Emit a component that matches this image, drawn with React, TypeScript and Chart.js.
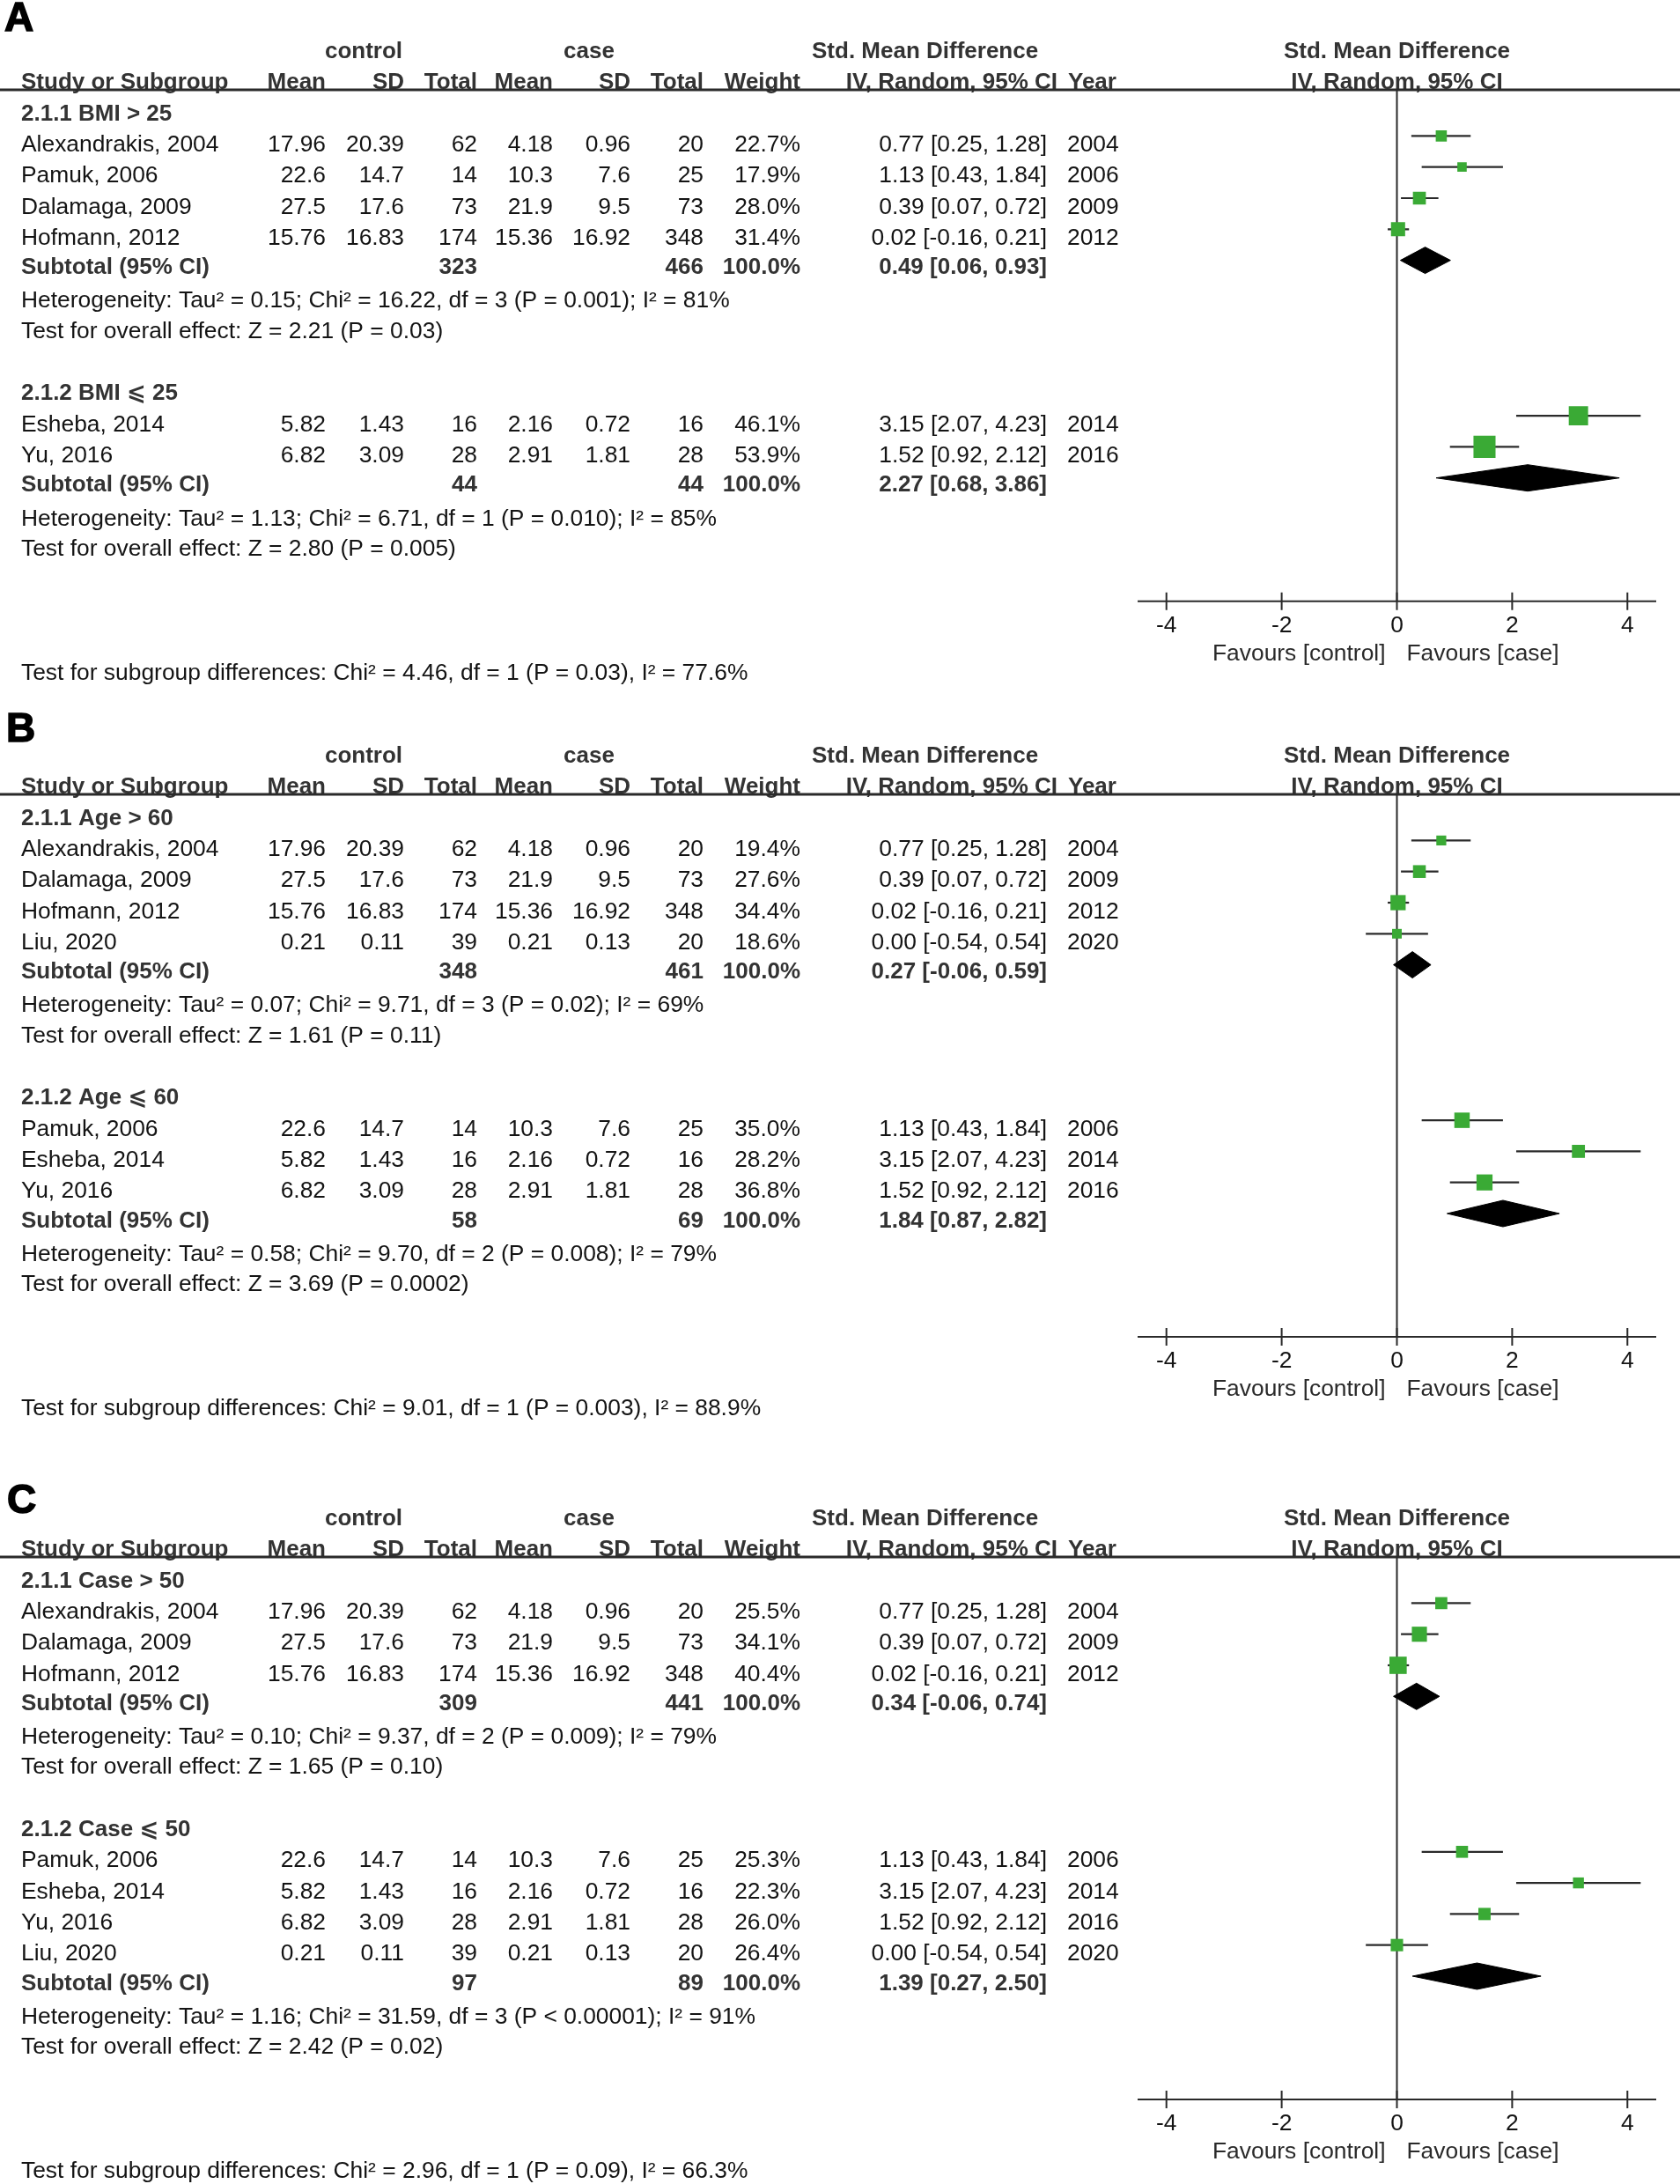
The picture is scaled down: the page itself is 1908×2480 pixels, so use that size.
import React, { useEffect, useRef } from "react";
import { Chart, registerables } from "chart.js";
Chart.register(...registerables);

// ---------------- Study-level data ----------------
const STUDY_NAMES = ["Alexandrakis, 2004", "Pamuk, 2006", "Dalamaga, 2009", "Hofmann, 2012", "Esheba, 2014", "Yu, 2016", "Liu, 2020"];
const STUDY_YEARS = [2004, 2006, 2009, 2012, 2014, 2016, 2020];
const CONTROL_MEAN = [17.96, 22.6, 27.5, 15.76, 5.82, 6.82, 0.21];
const CONTROL_SD = [20.39, 14.7, 17.6, 16.83, 1.43, 3.09, 0.11];
const CONTROL_TOTAL = [62, 14, 73, 174, 16, 28, 39];
const CASE_MEAN = [4.18, 10.3, 21.9, 15.36, 2.16, 2.91, 0.21];
const CASE_SD = [0.96, 7.6, 9.5, 16.92, 0.72, 1.81, 0.13];
const CASE_TOTAL = [20, 25, 73, 348, 16, 28, 20];
const SMD = [0.77, 1.13, 0.39, 0.02, 3.15, 1.52, 0.0];
const CI_LOW = [0.25, 0.43, 0.07, -0.16, 2.07, 0.92, -0.54];
const CI_HIGH = [1.28, 1.84, 0.72, 0.21, 4.23, 2.12, 0.54];

const X_TICKS = [-4, -2, 0, 2, 4];

// ---------------- Panel A ----------------
const A_TITLES = ["2.1.1 BMI > 25", "2.1.2 BMI \u2A7D 25"];
const A_STUDIES_1 = [0, 1, 2, 3];
const A_STUDIES_2 = [4, 5];
const A_WEIGHTS_1 = [22.7, 17.9, 28.0, 31.4];
const A_WEIGHTS_2 = [46.1, 53.9];
const A_SUB_CONTROL = [323, 44];
const A_SUB_CASE = [466, 44];
const A_SUB_SMD = [0.49, 2.27];
const A_SUB_LOW = [0.06, 0.68];
const A_SUB_HIGH = [0.93, 3.86];
const A_HETERO = [
  "Heterogeneity: Tau\u00B2 = 0.15; Chi\u00B2 = 16.22, df = 3 (P = 0.001); I\u00B2 = 81%",
  "Heterogeneity: Tau\u00B2 = 1.13; Chi\u00B2 = 6.71, df = 1 (P = 0.010); I\u00B2 = 85%",
];
const A_OVERALL = ["Test for overall effect: Z = 2.21 (P = 0.03)", "Test for overall effect: Z = 2.80 (P = 0.005)"];
const A_SUBGROUP = "Test for subgroup differences: Chi\u00B2 = 4.46, df = 1 (P = 0.03), I\u00B2 = 77.6%";

// ---------------- Panel B ----------------
const B_TITLES = ["2.1.1 Age > 60", "2.1.2 Age \u2A7D 60"];
const B_STUDIES_1 = [0, 2, 3, 6];
const B_STUDIES_2 = [1, 4, 5];
const B_WEIGHTS_1 = [19.4, 27.6, 34.4, 18.6];
const B_WEIGHTS_2 = [35.0, 28.2, 36.8];
const B_SUB_CONTROL = [348, 58];
const B_SUB_CASE = [461, 69];
const B_SUB_SMD = [0.27, 1.84];
const B_SUB_LOW = [-0.06, 0.87];
const B_SUB_HIGH = [0.59, 2.82];
const B_HETERO = [
  "Heterogeneity: Tau\u00B2 = 0.07; Chi\u00B2 = 9.71, df = 3 (P = 0.02); I\u00B2 = 69%",
  "Heterogeneity: Tau\u00B2 = 0.58; Chi\u00B2 = 9.70, df = 2 (P = 0.008); I\u00B2 = 79%",
];
const B_OVERALL = ["Test for overall effect: Z = 1.61 (P = 0.11)", "Test for overall effect: Z = 3.69 (P = 0.0002)"];
const B_SUBGROUP = "Test for subgroup differences: Chi\u00B2 = 9.01, df = 1 (P = 0.003), I\u00B2 = 88.9%";

// ---------------- Panel C ----------------
const C_TITLES = ["2.1.1 Case > 50", "2.1.2 Case \u2A7D 50"];
const C_STUDIES_1 = [0, 2, 3];
const C_STUDIES_2 = [1, 4, 5, 6];
const C_WEIGHTS_1 = [25.5, 34.1, 40.4];
const C_WEIGHTS_2 = [25.3, 22.3, 26.0, 26.4];
const C_SUB_CONTROL = [309, 97];
const C_SUB_CASE = [441, 89];
const C_SUB_SMD = [0.34, 1.39];
const C_SUB_LOW = [-0.06, 0.27];
const C_SUB_HIGH = [0.74, 2.5];
const C_HETERO = [
  "Heterogeneity: Tau\u00B2 = 0.10; Chi\u00B2 = 9.37, df = 2 (P = 0.009); I\u00B2 = 79%",
  "Heterogeneity: Tau\u00B2 = 1.16; Chi\u00B2 = 31.59, df = 3 (P < 0.00001); I\u00B2 = 91%",
];
const C_OVERALL = ["Test for overall effect: Z = 1.65 (P = 0.10)", "Test for overall effect: Z = 2.42 (P = 0.02)"];
const C_SUBGROUP = "Test for subgroup differences: Chi\u00B2 = 2.96, df = 1 (P = 0.09), I\u00B2 = 66.3%";

// ---------------- Styling / layout ----------------
const FONT = '"Liberation Sans", Arial, Helvetica, "DejaVu Sans", sans-serif';
const FS_BOLD = 26;
const FS_REG = 26.4;
const INK = "#141414";
const INK_BOLD = "#333333";
const LINE = "#2a2a2a";
const GREEN = "#3aaa35";
const W = 1908;
const ROW = 35.3;
const ROW0 = 48.5; // mark y of row 0 within a panel
const TEXT_DY = 17.5; // text baseline below mark y
const SUBTOTAL_DY = -2;
const HEADER_LINE = 102;
const X_LEFT = 1292;
const X_RIGHT = 1881;
const X_MIN = -4.5;
const X_MAX = 4.5;
const DIAMOND_HALF = 15 / ROW;
const COL = {
  name: 24, cMean: 370, cSD: 459, cTot: 542, kMean: 628, kSD: 716, kTot: 799,
  weight: 909, ci: 1189, year: 1212, smdHead: 922, ciHead: 1201, yearHead: 1213,
  controlC: 413, caseC: 669,
};

type Group = {
  title: string; studies: number[]; weights: number[];
  subControl: number; subCase: number; subSmd: number; subLow: number; subHigh: number;
  hetero: string; overall: string;
};
type Panel = { letter: string; top: number; height: number; letterX: number; letterY: number; groups: Group[]; subgroup: string };

function makeGroups(titles: string[], studies: number[][], weights: number[][], sc: number[], sk: number[], sm: number[], sl: number[], sh: number[], het: string[], ov: string[]): Group[] {
  return titles.map((t, i) => ({
    title: t, studies: studies[i], weights: weights[i], subControl: sc[i], subCase: sk[i],
    subSmd: sm[i], subLow: sl[i], subHigh: sh[i], hetero: het[i], overall: ov[i],
  }));
}

const PANELS: Panel[] = [
  {
    letter: "A", top: 0, height: 800, letterX: 5, letterY: 35,
    groups: makeGroups(A_TITLES, [A_STUDIES_1, A_STUDIES_2], [A_WEIGHTS_1, A_WEIGHTS_2], A_SUB_CONTROL, A_SUB_CASE, A_SUB_SMD, A_SUB_LOW, A_SUB_HIGH, A_HETERO, A_OVERALL),
    subgroup: A_SUBGROUP,
  },
  {
    letter: "B", top: 800, height: 866, letterX: 7, letterY: 42,
    groups: makeGroups(B_TITLES, [B_STUDIES_1, B_STUDIES_2], [B_WEIGHTS_1, B_WEIGHTS_2], B_SUB_CONTROL, B_SUB_CASE, B_SUB_SMD, B_SUB_LOW, B_SUB_HIGH, B_HETERO, B_OVERALL),
    subgroup: B_SUBGROUP,
  },
  {
    letter: "C", top: 1666, height: 814, letterX: 8, letterY: 52,
    groups: makeGroups(C_TITLES, [C_STUDIES_1, C_STUDIES_2], [C_WEIGHTS_1, C_WEIGHTS_2], C_SUB_CONTROL, C_SUB_CASE, C_SUB_SMD, C_SUB_LOW, C_SUB_HIGH, C_HETERO, C_OVERALL),
    subgroup: C_SUBGROUP,
  },
];

type GroupRows = { title: number; studies: number[]; sub: number; het: number; test: number };

function layoutRows(panel: Panel) {
  let r = 2;
  const groups: GroupRows[] = [];
  panel.groups.forEach((g, gi) => {
    if (gi > 0) r += 1; // blank row between groups
    const title = r++;
    const studies = g.studies.map(() => r++);
    const sub = r++;
    const het = r++;
    const test = r++;
    groups.push({ title, studies, sub, het, test });
  });
  const last = r - 1;
  return { groups, last, subgroupRow: last + 4 };
}

const fmt2 = (v: number) => v.toFixed(2);
const ciText = (e: number, lo: number, hi: number) => `${fmt2(e)} [${fmt2(lo)}, ${fmt2(hi)}]`;

function makeTablePlugin(panel: Panel, rows: ReturnType<typeof layoutRows>) {
  return {
    id: "forestTable" + panel.letter,
    afterDraw(chart: any) {
      const ctx: CanvasRenderingContext2D = chart.ctx;
      const xs = chart.scales.x;
      const ys = chart.scales.y;
      const area = chart.chartArea;
      const ty = (r: number) => ys.getPixelForValue(r) + TEXT_DY;
      const x0 = xs.getPixelForValue(0);
      const txt = (s: string, x: number, y: number, align: CanvasTextAlign, bold: boolean, color = bold ? INK_BOLD : INK) => {
        ctx.font = bold ? `bold ${FS_BOLD}px ${FONT}` : `${FS_REG}px ${FONT}`;
        ctx.textAlign = align;
        ctx.fillStyle = color;
        ctx.fillText(s, x, y);
      };
      ctx.save();
      ctx.textBaseline = "alphabetic";

      // panel letter
      ctx.font = `bold 46px ${FONT}`;
      ctx.textAlign = "left";
      ctx.fillStyle = "#000";
      ctx.fillText(panel.letter, panel.letterX, panel.letterY);
      ctx.lineWidth = 1.5;
      ctx.strokeStyle = "#000";
      ctx.strokeText(panel.letter, panel.letterX, panel.letterY);

      // header rows
      const h0 = ty(0);
      txt("control", COL.controlC, h0, "center", true);
      txt("case", COL.caseC, h0, "center", true);
      txt("Std. Mean Difference", COL.smdHead, h0, "left", true);
      txt("Std. Mean Difference", x0, h0, "center", true);
      const h1 = ty(1);
      txt("Study or Subgroup", COL.name, h1, "left", true);
      txt("Mean", COL.cMean, h1, "right", true);
      txt("SD", COL.cSD, h1, "right", true);
      txt("Total", COL.cTot, h1, "right", true);
      txt("Mean", COL.kMean, h1, "right", true);
      txt("SD", COL.kSD, h1, "right", true);
      txt("Total", COL.kTot, h1, "right", true);
      txt("Weight", COL.weight, h1, "right", true);
      txt("IV, Random, 95% CI", COL.ciHead, h1, "right", true);
      txt("Year", COL.yearHead, h1, "left", true);
      txt("IV, Random, 95% CI", x0, h1, "center", true);

      // header rule
      ctx.strokeStyle = LINE;
      ctx.lineWidth = 3;
      ctx.beginPath();
      ctx.moveTo(0, area.top);
      ctx.lineTo(W, area.top);
      ctx.stroke();

      panel.groups.forEach((g, gi) => {
        const gr = rows.groups[gi];
        txt(g.title, COL.name, ty(gr.title), "left", true);
        g.studies.forEach((si, k) => {
          const y = ty(gr.studies[k]);
          txt(STUDY_NAMES[si], COL.name, y, "left", false);
          txt(String(CONTROL_MEAN[si]), COL.cMean, y, "right", false);
          txt(String(CONTROL_SD[si]), COL.cSD, y, "right", false);
          txt(String(CONTROL_TOTAL[si]), COL.cTot, y, "right", false);
          txt(String(CASE_MEAN[si]), COL.kMean, y, "right", false);
          txt(String(CASE_SD[si]), COL.kSD, y, "right", false);
          txt(String(CASE_TOTAL[si]), COL.kTot, y, "right", false);
          txt(g.weights[k].toFixed(1) + "%", COL.weight, y, "right", false);
          txt(ciText(SMD[si], CI_LOW[si], CI_HIGH[si]), COL.ci, y, "right", false);
          txt(String(STUDY_YEARS[si]), COL.year, y, "left", false);
        });
        const ys2 = ty(gr.sub) + SUBTOTAL_DY;
        txt("Subtotal (95% CI)", COL.name, ys2, "left", true);
        txt(String(g.subControl), COL.cTot, ys2, "right", true);
        txt(String(g.subCase), COL.kTot, ys2, "right", true);
        txt("100.0%", COL.weight, ys2, "right", true);
        txt(ciText(g.subSmd, g.subLow, g.subHigh), COL.ci, ys2, "right", true);
        txt(g.hetero, COL.name, ty(gr.het) + 1, "left", false);
        txt(g.overall, COL.name, ty(gr.test), "left", false);
      });

      txt(panel.subgroup, COL.name, ty(rows.subgroupRow), "left", false);

      // x axis
      const ay = area.bottom;
      ctx.strokeStyle = LINE;
      ctx.lineWidth = 2;
      ctx.beginPath();
      ctx.moveTo(xs.getPixelForValue(X_MIN), ay);
      ctx.lineTo(xs.getPixelForValue(X_MAX), ay);
      X_TICKS.forEach((v) => {
        const px = xs.getPixelForValue(v);
        ctx.moveTo(px, ay - 10);
        ctx.lineTo(px, ay + 10);
      });
      ctx.stroke();
      X_TICKS.forEach((v) => {
        txt(String(v), xs.getPixelForValue(v), ay + 35, "center", false);
      });
      txt("Favours [control]", x0 - 13, ay + 67, "right", false, "#2a2a2a");
      txt("Favours [case]", x0 + 11, ay + 67, "left", false, "#2a2a2a");
      ctx.restore();
    },
  };
}

function buildConfig(panel: Panel) {
  const rows = layoutRows(panel);
  const yMin = (HEADER_LINE - ROW0) / ROW;
  const axisY = ROW0 + ROW * rows.last + 69.5;
  const yMax = (axisY - ROW0) / ROW;
  const datasets: any[] = [];
  const squares: any[] = [];
  panel.groups.forEach((g, gi) => {
    const gr = rows.groups[gi];
    g.studies.forEach((si, k) => {
      const r = gr.studies[k];
      squares.push({ x: SMD[si], y: r, w: g.weights[k] });
      datasets.push({
        data: [{ x: CI_LOW[si], y: r }, { x: CI_HIGH[si], y: r }],
        showLine: true, borderColor: LINE, borderWidth: 2.2, pointRadius: 0, pointHoverRadius: 0, order: 2,
      });
    });
    const sr = gr.sub;
    datasets.push({
      data: [
        { x: g.subLow, y: sr },
        { x: g.subSmd, y: sr - DIAMOND_HALF },
        { x: g.subHigh, y: sr },
        { x: g.subSmd, y: sr + DIAMOND_HALF },
        { x: g.subLow, y: sr },
      ],
      showLine: true, fill: "shape", backgroundColor: "#000", borderColor: "#000", borderWidth: 1,
      pointRadius: 0, pointHoverRadius: 0, tension: 0, order: 1,
    });
  });
  datasets.push({
    data: squares,
    pointStyle: "rect",
    pointRadius: (c: any) => (3.5 + 0.4 * (c.raw ? c.raw.w : 20)) / Math.SQRT2,
    pointHoverRadius: (c: any) => (3.5 + 0.4 * (c.raw ? c.raw.w : 20)) / Math.SQRT2,
    pointBackgroundColor: GREEN,
    backgroundColor: GREEN,
    pointBorderWidth: 0,
    borderWidth: 0,
    order: 0,
  });
  datasets.push({
    data: [{ x: 0, y: yMin }, { x: 0, y: yMax }],
    showLine: true, borderColor: LINE, borderWidth: 2, pointRadius: 0, pointHoverRadius: 0, order: 3, clip: false,
  });

  return {
    type: "scatter" as const,
    data: { datasets },
    options: {
      animation: false as const,
      responsive: false,
      devicePixelRatio: 1,
      events: [],
      layout: { padding: { left: X_LEFT, right: W - X_RIGHT, top: HEADER_LINE, bottom: panel.height - axisY } },
      scales: {
        x: { type: "linear" as const, min: X_MIN, max: X_MAX, display: false },
        y: { type: "linear" as const, min: yMin, max: yMax, reverse: true, display: false },
      },
      plugins: { legend: { display: false }, tooltip: { enabled: false } },
    },
    plugins: [makeTablePlugin(panel, rows)],
  };
}

function ForestPanel({ panel }: { panel: Panel }) {
  const ref = useRef<HTMLCanvasElement>(null);
  useEffect(() => {
    if (!ref.current) return;
    const chart = new Chart(ref.current, buildConfig(panel) as any);
    return () => chart.destroy();
  }, [panel]);
  return (
    <canvas
      ref={ref}
      width={W}
      height={panel.height}
      style={{ position: "absolute", left: 0, top: panel.top, width: W, height: panel.height, display: "block" }}
    />
  );
}

export default function App() {
  return (
    <div style={{ position: "absolute", left: 0, top: 0, width: W, height: 2480, background: "#fff", overflow: "hidden" }}>
      {PANELS.map((p) => (
        <ForestPanel key={p.letter} panel={p} />
      ))}
    </div>
  );
}
